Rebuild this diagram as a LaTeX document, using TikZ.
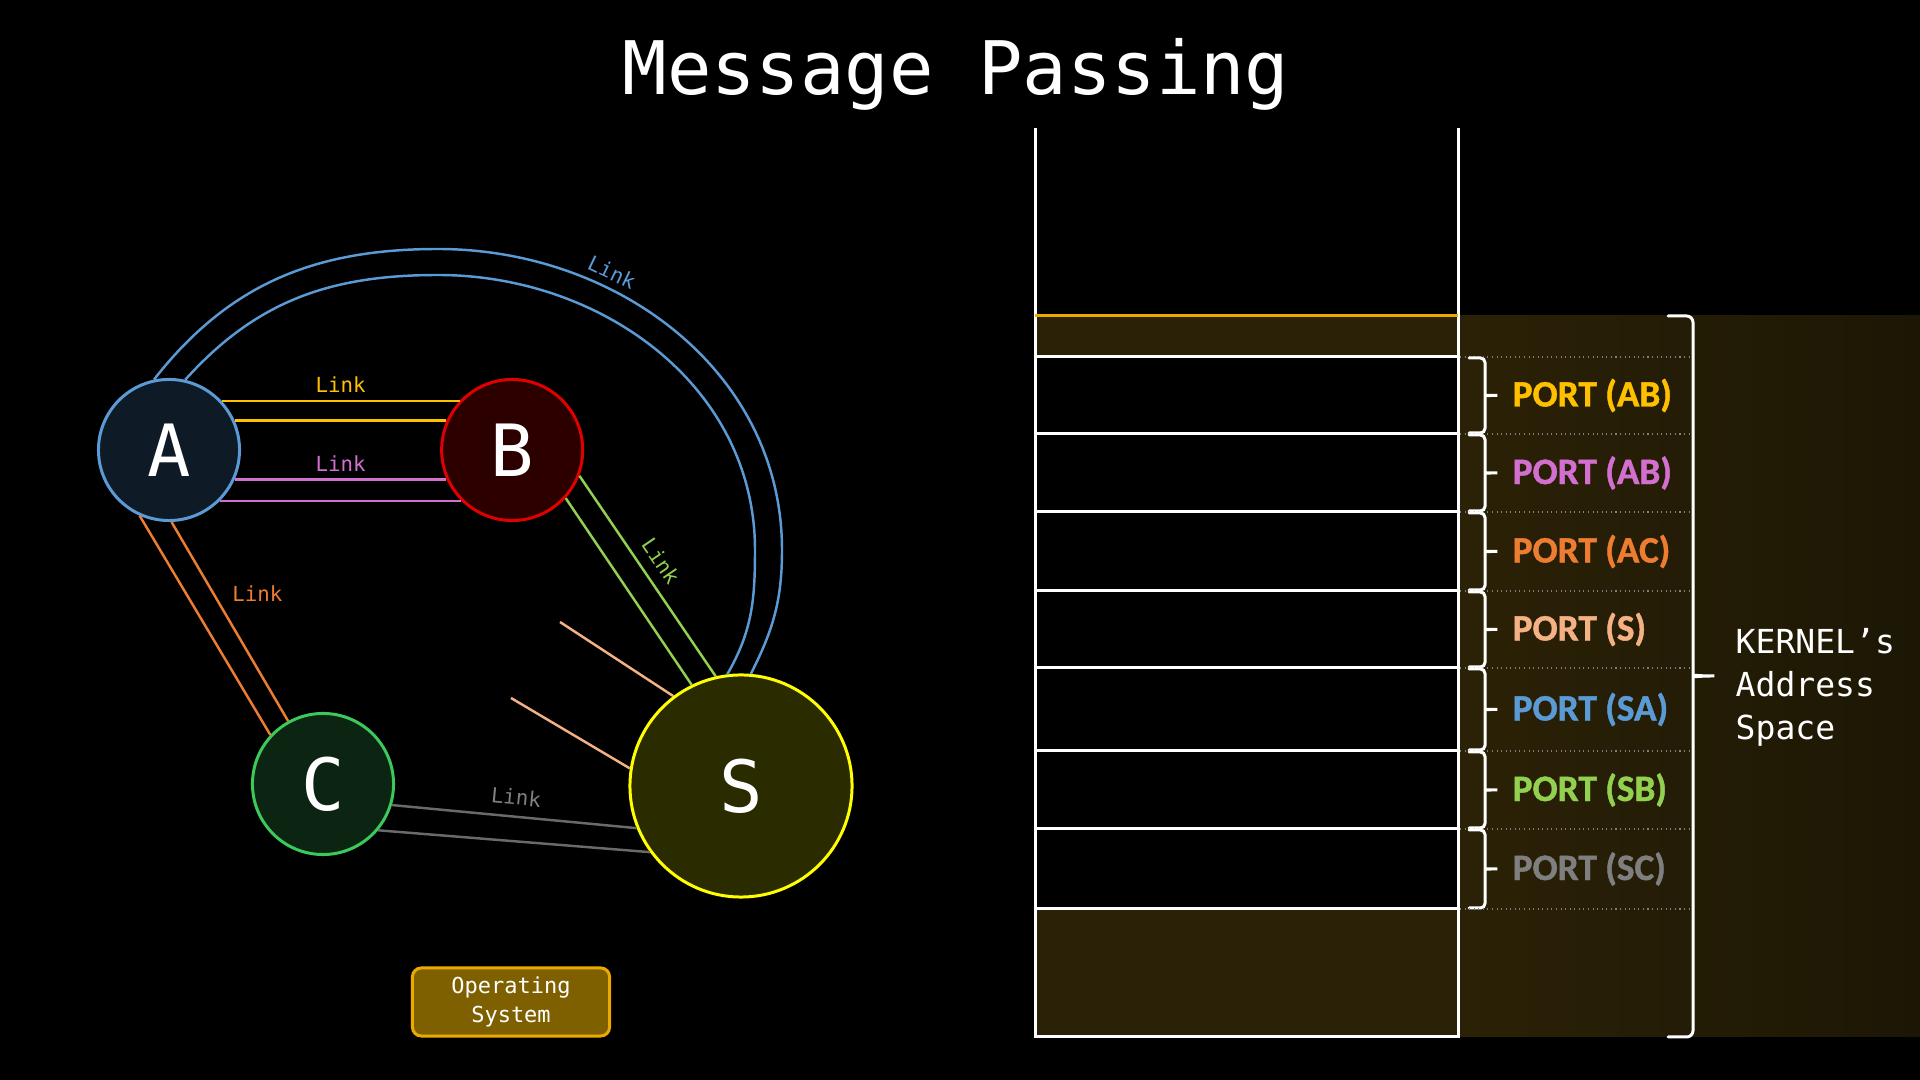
\documentclass[tikz,border=0pt]{standalone}
\usepackage{fontspec}
\setmainfont{DejaVu Sans Mono}
\newfontfamily\portfont{Carlito}[BoldFeatures={FakeBold=1.2}]
\usetikzlibrary{positioning}

\definecolor{portyellow}{HTML}{FFC000}
\definecolor{portpink}{HTML}{D36FCF}
\definecolor{portorange}{HTML}{ED7D31}
\definecolor{portsalmon}{HTML}{F4B183}
\definecolor{portblue}{HTML}{5B9BD5}
\definecolor{portgreen}{HTML}{92D050}
\definecolor{portgray}{HTML}{7F7F7F}
\definecolor{linkgray}{HTML}{6A6A6A}
\definecolor{kernelfill}{HTML}{2B2106}
\definecolor{kerneldark}{HTML}{1C1705}
\definecolor{osline}{HTML}{EBAA00}
\definecolor{osfill}{HTML}{7F6000}
\definecolor{afill}{HTML}{0E1A25}
\definecolor{bfill}{HTML}{2D0000}
\definecolor{bline}{HTML}{E00000}
\definecolor{cfill}{HTML}{0C2412}
\definecolor{cline}{HTML}{3CC85A}
\definecolor{sfill}{HTML}{2B2B00}
\definecolor{sline}{HTML}{FFFF00}

\tikzset{
	process/.style={circle, line width=0.85pt, text=white, inner sep=0pt,
			font=\fontsize{20.5}{20.5}\selectfont},
	link/.style={line width=0.7pt},
	linklabel/.style={font=\fontsize{5.9}{7}\selectfont, inner sep=1pt},
	osbox/.style={draw=osline, fill=osfill, rounded corners=2.5pt, line width=0.85pt,
			minimum width=1.97cm, minimum height=0.68cm, inner sep=0pt, align=center,
			text=white, font=\fontsize{6.25}{8.3}\selectfont},
	slot/.style={draw=white, fill=black, line width=0.85pt},
	slotsep/.style={draw=portgray, densely dotted, line width=0.3pt},
	bracestroke/.style={draw=white, line width=0.85pt, line cap=round},
	portlabel/.style={anchor=west, inner sep=0pt,
			font=\portfont\bfseries\fontsize{10.6}{10.6}\selectfont},
}

\begin{document}
\begin{tikzpicture}[x=0.01cm, y=0.01cm]
	\fill[black] (0,0) rectangle (1920,-1080);
	\useasboundingbox (0,0) rectangle (1920,-1080);

	\node[text=white, anchor=base, font=\fontsize{21}{21}\selectfont] (title) at (956,-95) {Message Passing};

	% kernel's address space
	\fill[kernelfill] (1035,-316) rectangle (1458,-1037);
	\shade[left color=kernelfill, right color=kerneldark] (1458,-316) rectangle (1920,-1037);
	\draw[white, line width=0.85pt] (1035,-128) -- (1035,-1037) -- (1458,-1037) -- (1458,-128);
	\draw[osline, line width=0.85pt] (1035,-316) -- (1458,-316);
	\foreach \ytop/\ybot/\port/\col in {357/434/AB/portyellow, 434/512/AB/portpink,
			512/591/AC/portorange, 591/668/S/portsalmon, 668/751/SA/portblue,
			751/829/SB/portgreen, 829/909/SC/portgray}
	{
		\pgfmathsetmacro\ymid{(\ytop+\ybot)/2}
		\draw[slot] (1035,-\ytop) rectangle (1458,-\ybot);
		\draw[slotsep] (1460,-\ytop) -- (1692,-\ytop);
		\draw[bracestroke, rounded corners=1.3pt] (1469,-\ytop-1) -- (1485,-\ytop-1) -- (1485,-\ymid+5)
			.. controls (1485,-\ymid) and (1490,-\ymid) .. (1500,-\ymid)
			.. controls (1490,-\ymid) and (1485,-\ymid) .. (1485,-\ymid-5)
			-- (1485,-\ybot+1) -- (1469,-\ybot+1);
		\node[portlabel, text=\col] (port\ytop) at (1512,-\ymid) {PORT (\port)};
	}
	\draw[slotsep] (1460,-909) -- (1697,-909);
	\draw[bracestroke, rounded corners=1.8pt] (1668,-316) -- (1693,-316) -- (1693,-669)
		.. controls (1693,-675) and (1701,-676) .. (1718,-676)
		.. controls (1701,-676) and (1693,-677) .. (1693,-683)
		-- (1693,-1037) -- (1668,-1037);
	\node[anchor=west, inner sep=0pt, align=left, text=white,
		font=\fontsize{9.4}{12.2}\selectfont] (kernel) at (1735,-687) {KERNEL’s\\Address\\Space};

	% processes
	\node[process, draw=portblue, fill=afill, minimum size=1.41cm] (A) at (169,-450) {A};
	\node[process, draw=bline, fill=bfill, minimum size=1.41cm, right=1.99cm of A] (B) {B};
	\node[process, draw=cline, fill=cfill, minimum size=1.41cm] (C) at (323,-784) {C};
	\node[process, draw=sline, fill=sfill, minimum size=2.22cm] (S) at (741,-786) {S};

	\node[osbox] (os) at (511,-1002) {Operating\\System};

	% links
	\draw[link, portyellow] (A.43) -- node[linklabel, above=1pt] {Link} (B.137);
	\draw[link, portyellow] (A.24) -- (B.156);
	\draw[link, portpink] (A.-24) -- node[linklabel, above=1pt] {Link} (B.-156);
	\draw[link, portpink] (A.-45) -- (B.-135);

	\draw[link, portgreen] (B.-21) -- node[linklabel, sloped, above=2pt, pos=0.48] {Link} (S.103);
	\draw[link, portgreen] (B.-42) -- (S.116);

	\draw[link, portorange] (A.246) -- (C.137);
	\draw[link, portorange] (A.-88) -- node[linklabel, pos=0.36, right=4pt] {Link} (C.119);

	\draw[link, linkgray] (C.-17) -- node[linklabel, sloped, above=2pt, text=portgray] {Link} (S.202);
	\draw[link, linkgray] (C.-40) -- (S.216);

	\coordinate (sfree1) at (560,-622);
	\coordinate (sfree2) at (511,-698);
	\draw[link, portsalmon] (sfree1) -- (S.127);
	\draw[link, portsalmon] (sfree2) -- (S.171);

	\coordinate (outertop) at (438,-249);
	\coordinate (outerright) at (782,-550);
	\coordinate (innertop) at (438,-275);
	\coordinate (innerright) at (755,-550);
	\draw[link, portblue] (A.102) to[out=52, in=180] (outertop)
		to[out=0, in=90] node[linklabel, sloped, above=1pt, pos=0.33] {Link} (outerright)
		to[out=-90, in=63] (S.85);
	\draw[link, portblue] (A.77) to[out=48, in=180] (innertop)
		to[out=0, in=90] (innerright) to[out=-90, in=60] (S.97);
\end{tikzpicture}
\end{document}
